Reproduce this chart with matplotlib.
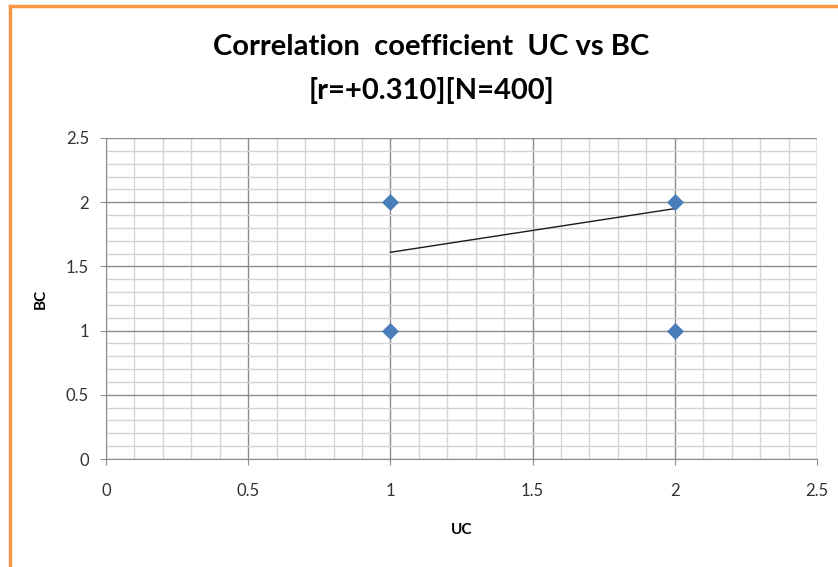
import matplotlib
matplotlib.use("Agg")
import matplotlib.pyplot as plt
import numpy as np
from matplotlib.ticker import MultipleLocator
from matplotlib.lines import Line2D

uc = [1, 1, 2, 2]
bc = [2, 1, 2, 1]
trend_x = [1, 2]
trend_y = [1.61, 1.95]
ticks = [0, 0.5, 1, 1.5, 2, 2.5]
tick_labels = ["0", "0.5", "1", "1.5", "2", "2.5"]
title = "Correlation  coefficient  UC vs BC\n[r=+0.310][N=400]"
xlabel = "UC"
ylabel = "BC"

plt.rcParams['font.family'] = ['Lato', 'DejaVu Sans']

fig = plt.figure(figsize=(8.38, 5.67), dpi=100)
ax = fig.add_axes([106/838, 1 - 459/567, (817-106)/838, (459-138)/567])

ax.set_xlim(0, 2.5)
ax.set_ylim(0, 2.5)
ax.xaxis.set_minor_locator(MultipleLocator(0.1))
ax.yaxis.set_minor_locator(MultipleLocator(0.1))
ax.grid(which='minor', color='#d4d4d4', linewidth=1.0)
ax.grid(which='major', color='#8c8c8c', linewidth=1.0)
ax.set_axisbelow(True)

ax.plot(trend_x, trend_y, color='#1a1a1a', linewidth=1.0, zorder=3)
ax.scatter(uc, bc, marker='D', s=75, color='#4a7ebb', zorder=4, linewidths=0)

for s in ['top', 'right']:
    ax.spines[s].set_visible(False)
for s in ['left', 'bottom']:
    ax.spines[s].set_color('#8c8c8c')

ax.set_xticks(ticks)
ax.set_yticks(ticks)
ax.set_xticklabels(tick_labels)
ax.set_yticklabels(tick_labels)
ax.tick_params(which='major', axis='x', length=4.3, color='#8c8c8c', pad=13, labelsize=12, labelcolor='#333333')
ax.tick_params(which='major', axis='y', length=4.3, color='#8c8c8c', pad=8, labelsize=12, labelcolor='#333333')
ax.tick_params(which='minor', length=0)

ax.set_xlabel(xlabel, fontsize=11, fontweight='bold', labelpad=17)
ax.set_ylabel(ylabel, fontsize=11, fontweight='bold', labelpad=13)

fig.text(0.515, 1 - 69/567, title, ha='center', va='center', fontsize=21, fontweight='bold', linespacing=1.8)

# orange border (left and top)
fig.add_artist(Line2D([9.5/838, 9.5/838], [0, 1 - 5.5/567], transform=fig.transFigure, color='#f79646', linewidth=2.5))
fig.add_artist(Line2D([9.5/838, 1], [1 - 5.5/567, 1 - 5.5/567], transform=fig.transFigure, color='#f79646', linewidth=2.5))

fig.savefig("out.png", dpi=100)
